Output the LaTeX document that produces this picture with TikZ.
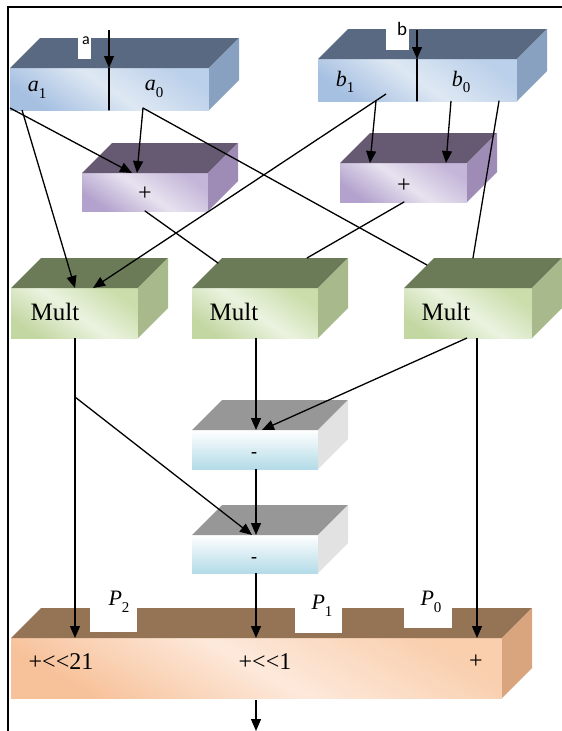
\documentclass[tikz,border=0pt]{standalone}
\usepackage{fontspec}
\setmainfont{Liberation Serif}[Ligatures=TeXOff]
\newfontfamily\labelsans{Carlito}
\usetikzlibrary{calc,arrows.meta}

% face colours
\definecolor{regTop}{HTML}{5A6982}
\definecolor{regSide}{HTML}{88A1C1}
\definecolor{regLo}{HTML}{A6C0E2}
\definecolor{regMid}{HTML}{DEE8F3}
\definecolor{regHi}{HTML}{BBD0EA}
\definecolor{addTop}{HTML}{665A72}
\definecolor{addSide}{HTML}{9E8CB6}
\definecolor{addLo}{HTML}{B3A2CD}
\definecolor{addMid}{HTML}{E7E2EF}
\definecolor{addHi}{HTML}{C4B6D9}
\definecolor{mulTop}{HTML}{6C7B57}
\definecolor{mulSide}{HTML}{A8BA8B}
\definecolor{mulLo}{HTML}{C3D7A2}
\definecolor{mulMid}{HTML}{EBF3E0}
\definecolor{mulHi}{HTML}{CADDAA}
\definecolor{subTop}{HTML}{979797}
\definecolor{subSide}{HTML}{E2E2E2}
\definecolor{subLo}{HTML}{B3DBE7}
\definecolor{outTop}{HTML}{957455}
\definecolor{outSide}{HTML}{D9A57F}
\definecolor{outLo}{HTML}{F7C199}
\definecolor{outMid}{HTML}{FDE9DB}
\definecolor{outHi}{HTML}{F9CFAE}

% top and right faces of a block whose front face is node #1
\newcommand\blockfaces[3]{%
  \fill[#2] (#1.north west) -- ++(30,-30) -- ($(#1.north east)+(30,-30)$) -- (#1.north east) -- cycle;
  \fill[#3] (#1.north east) -- ++(30,-30) -- ($(#1.south east)+(30,-30)$) -- (#1.south east) -- cycle;
}
% italic symbol with an upright index
\newcommand\symidx[3]{\fontsize{#3}{#3}\selectfont\textit{#1}\raisebox{-0.3em}{\fontsize{15}{15}\selectfont #2}}

\begin{document}
\begin{tikzpicture}[x=1pt,y=-1pt,
  face/.style={rectangle, inner sep=0pt, outer sep=0pt, anchor=north west},
  regface/.style={face, bottom color=regLo, top color=regHi, middle color=regMid, shading angle=-35},
  addface/.style={face, bottom color=addLo, top color=addHi, middle color=addMid, shading angle=-35},
  mulface/.style={face, bottom color=mulLo, top color=mulHi, middle color=mulMid, shading angle=-35},
  subface/.style={face, bottom color=subLo, top color=white},
  outface/.style={face, bottom color=outLo, top color=outHi, middle color=outMid, shading angle=-30},
  wire/.style={line width=1.3pt, line cap=round},
  arr/.style={line width=1.3pt, -{Triangle[length=12pt,width=10pt]}},
  txt/.style={inner sep=0pt, font=\fontsize{24}{24}\selectfont},
  lbl/.style={inner sep=0pt},
  notch/.style={fill=white, draw=none}]
\useasboundingbox (0,0) rectangle (562,731);

% frame
\draw[line width=1.3pt] (8,731) -- (8,7) -- (562,7);

% operand registers
\node[regface, minimum width=199pt, minimum height=42pt] (A) at (10,68) {};
\blockfaces{A}{regTop}{regSide}
\node[regface, minimum width=199pt, minimum height=42pt] (B) at (318,59) {};
\blockfaces{B}{regTop}{regSide}
\fill[notch] (78,37) rectangle (91,59);
\fill[notch] (386,29) rectangle (409,50);
\node[inner sep=0pt, font=\labelsans\fontsize{16}{16}\selectfont] (la) at (86,41) {a};
\node[inner sep=0pt, font=\labelsans\fontsize{19}{19}\selectfont] (lb) at (402,29) {b};
\node[lbl] (la1) at (37,90) {\symidx{a}{1}{22}};
\node[lbl] (la0) at (154,89) {\symidx{a}{0}{22}};
\node[lbl] (lb1) at (345,82) {\symidx{b}{1}{22}};
\node[lbl] (lb0) at (461,82) {\symidx{b}{0}{22}};

% adders
\node[addface, minimum width=126pt, minimum height=38pt] (add1) at (82,173) {};
\blockfaces{add1}{addTop}{addSide}
\node[addface, minimum width=127pt, minimum height=39pt] (add2) at (340,163) {};
\blockfaces{add2}{addTop}{addSide}
\node[txt] (padd1) at (145,194) {+};
\node[txt] (padd2) at (404,186) {+};

% multipliers
\node[mulface, minimum width=127pt, minimum height=50pt] (mul1) at (11,288) {};
\blockfaces{mul1}{mulTop}{mulSide}
\node[mulface, minimum width=126pt, minimum height=50pt] (mul2) at (192,288) {};
\blockfaces{mul2}{mulTop}{mulSide}
\node[mulface, minimum width=128pt, minimum height=50pt] (mul3) at (404,288) {};
\blockfaces{mul3}{mulTop}{mulSide}
\node[txt, font=\fontsize{25}{25}\selectfont] (tm1) at (55,312) {Mult};
\node[txt, font=\fontsize{25}{25}\selectfont] (tm2) at (234,312) {Mult};
\node[txt, font=\fontsize{25}{25}\selectfont] (tm3) at (446,312) {Mult};

% subtractors
\node[subface, minimum width=126pt, minimum height=39pt] (sub1) at (192,430) {};
\blockfaces{sub1}{subTop}{subSide}
\node[subface, minimum width=126pt, minimum height=38pt] (sub2) at (192,535) {};
\blockfaces{sub2}{subTop}{subSide}
\node[inner sep=0pt, font=\bfseries\fontsize{18}{18}\selectfont] (ms1) at (254,455) {-};
\node[inner sep=0pt, font=\bfseries\fontsize{18}{18}\selectfont] (ms2) at (254,560) {-};

% output accumulator
\node[outface, minimum width=491pt, minimum height=60pt] (out) at (11,638) {};
\blockfaces{out}{outTop}{outSide}
\fill[notch] (90,608) rectangle (137,632);
\fill[notch] (295,608) rectangle (342,633);
\fill[notch] (404,608) rectangle (452,628);
\node[lbl] (p2) at (119,602) {\symidx{P}{2}{22}};
\node[lbl] (p1) at (322,606) {\symidx{P}{1}{22}};
\node[lbl] (p0) at (431,602) {\symidx{P}{0}{22}};
\node[txt] (s21) at (61,662) {+<<21};
\node[txt] (s1) at (265,662) {+<<1};
\node[txt] (s0) at (476,662) {+};

% inputs
\coordinate (ain) at (109,30);
\coordinate (bin) at (417,30);
\draw[arr] (ain) -- ($(A.north west)+(99,0)$);
\draw[wire] ($(A.north west)+(99,0)$) -- ($(A.south west)+(99,0)$);
\draw[arr] (bin) -- ($(B.north west)+(99,0)$);
\draw[wire] ($(B.north west)+(99,0)$) -- ($(B.south west)+(99,0)$);

% operand halves to adders and multipliers
\draw[arr] ($(A.south west)+(0,-2)$) -- ($(add1.north west)+(50,0)$);
\draw[arr] ($(A.south west)+(133,-2)$) -- ($(add1.north west)+(55,0)$);
\draw[arr] ($(A.south west)+(12,0)$) -- ($(mul1.north west)+(64,0)$);
\draw[wire] ($(A.south west)+(133,-2)$) -- ($(mul3.north west)+(23,-23)$);
\draw[arr] ($(B.south west)+(68,-7)$) -- ($(mul1.north west)+(82,0)$);
\draw[arr] ($(B.south west)+(58,0)$) -- ($(add2.north west)+(30,0)$);
\draw[arr] ($(B.south west)+(133,0)$) -- ($(add2.north west)+(106,0)$);
\draw[wire] ($(B.south west)+(181,0)$) -- ($(mul3.north west)+(69,-30)$);

% sums to the middle multiplier
\draw[wire] ($(add1.south west)+(63,0)$) -- ($(mul2.north west)+(26,-25)$);
\draw[wire] ($(add2.south west)+(64,0)$) -- ($(mul2.north west)+(115,-30)$);

% products
\coordinate (br) at ($(mul1.south west)+(64,59)$);
\draw[arr] ($(mul1.south west)+(64,0)$) -- ($(out.north west)+(64,0)$);
\draw[arr] (br) -- ($(sub2.north west)+(60,0)$);
\draw[arr] ($(mul2.south west)+(64,0)$) -- ($(sub1.north west)+(64,0)$);
\draw[arr] ($(mul3.south west)+(63,0)$) -- ($(sub1.north west)+(70,0)$);
\draw[arr] ($(mul3.south west)+(73,0)$) -- ($(out.north west)+(466,0)$);
\draw[arr] ($(sub1.south west)+(64,0)$) -- ($(sub2.north west)+(64,0)$);
\draw[arr] ($(sub2.south west)+(64,0)$) -- ($(out.north west)+(245,0)$);

% result
\coordinate (res) at (256,731);
\draw[arr] ($(out.south west)+(245,2)$) -- (res);
\end{tikzpicture}
\end{document}
